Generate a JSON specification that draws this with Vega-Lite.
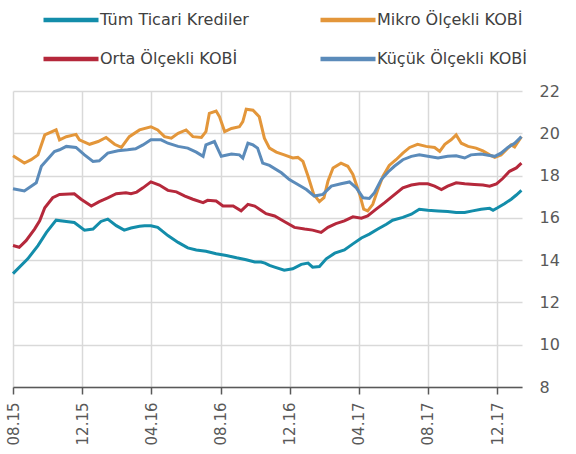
{
  "$schema": "https://vega.github.io/schema/vega-lite/v6.json",
  "width": 509,
  "height": 296,
  "autosize": {"type": "none"},
  "padding": {"left": 13, "top": 91, "right": 54, "bottom": 67},
  "background": "white",
  "config": {"view": {"stroke": null}, "font": "DejaVu Sans"},
  "data": {"values": [
    {"d":"2015-08-01","s":"Tüm Ticari Krediler","v":13.36},
    {"d":"2015-08-27","s":"Tüm Ticari Krediler","v":14.06},
    {"d":"2015-09-14","s":"Tüm Ticari Krediler","v":14.69},
    {"d":"2015-09-29","s":"Tüm Ticari Krediler","v":15.31},
    {"d":"2015-10-16","s":"Tüm Ticari Krediler","v":15.89},
    {"d":"2015-11-03","s":"Tüm Ticari Krediler","v":15.83},
    {"d":"2015-11-17","s":"Tüm Ticari Krediler","v":15.78},
    {"d":"2015-12-05","s":"Tüm Ticari Krediler","v":15.42},
    {"d":"2015-12-20","s":"Tüm Ticari Krediler","v":15.47},
    {"d":"2016-01-03","s":"Tüm Ticari Krediler","v":15.83},
    {"d":"2016-01-15","s":"Tüm Ticari Krediler","v":15.94},
    {"d":"2016-01-30","s":"Tüm Ticari Krediler","v":15.63},
    {"d":"2016-02-13","s":"Tüm Ticari Krediler","v":15.42},
    {"d":"2016-02-25","s":"Tüm Ticari Krediler","v":15.52},
    {"d":"2016-03-11","s":"Tüm Ticari Krediler","v":15.6},
    {"d":"2016-03-20","s":"Tüm Ticari Krediler","v":15.63},
    {"d":"2016-03-31","s":"Tüm Ticari Krediler","v":15.63},
    {"d":"2016-04-12","s":"Tüm Ticari Krediler","v":15.55},
    {"d":"2016-04-30","s":"Tüm Ticari Krediler","v":15.16},
    {"d":"2016-05-18","s":"Tüm Ticari Krediler","v":14.84},
    {"d":"2016-06-04","s":"Tüm Ticari Krediler","v":14.58},
    {"d":"2016-06-19","s":"Tüm Ticari Krediler","v":14.48},
    {"d":"2016-07-06","s":"Tüm Ticari Krediler","v":14.42},
    {"d":"2016-07-24","s":"Tüm Ticari Krediler","v":14.3},
    {"d":"2016-08-11","s":"Tüm Ticari Krediler","v":14.22},
    {"d":"2016-08-29","s":"Tüm Ticari Krediler","v":14.11},
    {"d":"2016-09-15","s":"Tüm Ticari Krediler","v":14.02},
    {"d":"2016-09-30","s":"Tüm Ticari Krediler","v":13.91},
    {"d":"2016-10-11","s":"Tüm Ticari Krediler","v":13.91},
    {"d":"2016-10-18","s":"Tüm Ticari Krediler","v":13.86},
    {"d":"2016-10-26","s":"Tüm Ticari Krediler","v":13.75},
    {"d":"2016-11-04","s":"Tüm Ticari Krediler","v":13.67},
    {"d":"2016-11-21","s":"Tüm Ticari Krediler","v":13.52},
    {"d":"2016-12-06","s":"Tüm Ticari Krediler","v":13.59},
    {"d":"2016-12-21","s":"Tüm Ticari Krediler","v":13.8},
    {"d":"2017-01-02","s":"Tüm Ticari Krediler","v":13.86},
    {"d":"2017-01-10","s":"Tüm Ticari Krediler","v":13.67},
    {"d":"2017-01-22","s":"Tüm Ticari Krediler","v":13.7},
    {"d":"2017-02-03","s":"Tüm Ticari Krediler","v":14.06},
    {"d":"2017-02-18","s":"Tüm Ticari Krediler","v":14.33},
    {"d":"2017-03-07","s":"Tüm Ticari Krediler","v":14.48},
    {"d":"2017-03-22","s":"Tüm Ticari Krediler","v":14.77},
    {"d":"2017-04-06","s":"Tüm Ticari Krediler","v":15.05},
    {"d":"2017-04-20","s":"Tüm Ticari Krediler","v":15.23},
    {"d":"2017-05-05","s":"Tüm Ticari Krediler","v":15.47},
    {"d":"2017-05-20","s":"Tüm Ticari Krediler","v":15.7},
    {"d":"2017-05-31","s":"Tüm Ticari Krediler","v":15.89},
    {"d":"2017-06-18","s":"Tüm Ticari Krediler","v":16.02},
    {"d":"2017-07-03","s":"Tüm Ticari Krediler","v":16.17},
    {"d":"2017-07-17","s":"Tüm Ticari Krediler","v":16.41},
    {"d":"2017-08-01","s":"Tüm Ticari Krediler","v":16.36},
    {"d":"2017-08-19","s":"Tüm Ticari Krediler","v":16.33},
    {"d":"2017-09-05","s":"Tüm Ticari Krediler","v":16.3},
    {"d":"2017-09-20","s":"Tüm Ticari Krediler","v":16.25},
    {"d":"2017-10-05","s":"Tüm Ticari Krediler","v":16.25},
    {"d":"2017-10-19","s":"Tüm Ticari Krediler","v":16.33},
    {"d":"2017-11-03","s":"Tüm Ticari Krediler","v":16.41},
    {"d":"2017-11-18","s":"Tüm Ticari Krediler","v":16.45},
    {"d":"2017-11-24","s":"Tüm Ticari Krediler","v":16.36},
    {"d":"2017-12-02","s":"Tüm Ticari Krediler","v":16.48},
    {"d":"2017-12-14","s":"Tüm Ticari Krediler","v":16.67},
    {"d":"2017-12-26","s":"Tüm Ticari Krediler","v":16.88},
    {"d":"2018-01-04","s":"Tüm Ticari Krediler","v":17.08},
    {"d":"2018-01-13","s":"Tüm Ticari Krediler","v":17.3},

    {"d":"2015-08-01","s":"Mikro Ölçekli KOBİ","v":18.94},
    {"d":"2015-08-21","s":"Mikro Ölçekli KOBİ","v":18.59},
    {"d":"2015-09-02","s":"Mikro Ölçekli KOBİ","v":18.75},
    {"d":"2015-09-14","s":"Mikro Ölçekli KOBİ","v":18.98},
    {"d":"2015-09-26","s":"Mikro Ölçekli KOBİ","v":19.92},
    {"d":"2015-10-16","s":"Mikro Ölçekli KOBİ","v":20.16},
    {"d":"2015-10-22","s":"Mikro Ölçekli KOBİ","v":19.69},
    {"d":"2015-11-03","s":"Mikro Ölçekli KOBİ","v":19.84},
    {"d":"2015-11-20","s":"Mikro Ölçekli KOBİ","v":19.95},
    {"d":"2015-11-26","s":"Mikro Ölçekli KOBİ","v":19.69},
    {"d":"2015-12-14","s":"Mikro Ölçekli KOBİ","v":19.48},
    {"d":"2015-12-29","s":"Mikro Ölçekli KOBİ","v":19.61},
    {"d":"2016-01-12","s":"Mikro Ölçekli KOBİ","v":19.8},
    {"d":"2016-01-27","s":"Mikro Ölçekli KOBİ","v":19.48},
    {"d":"2016-02-08","s":"Mikro Ölçekli KOBİ","v":19.33},
    {"d":"2016-02-22","s":"Mikro Ölçekli KOBİ","v":19.84},
    {"d":"2016-03-11","s":"Mikro Ölçekli KOBİ","v":20.16},
    {"d":"2016-03-31","s":"Mikro Ölçekli KOBİ","v":20.31},
    {"d":"2016-04-12","s":"Mikro Ölçekli KOBİ","v":20.16},
    {"d":"2016-04-24","s":"Mikro Ölçekli KOBİ","v":19.84},
    {"d":"2016-05-06","s":"Mikro Ölçekli KOBİ","v":19.77},
    {"d":"2016-05-18","s":"Mikro Ölçekli KOBİ","v":20.0},
    {"d":"2016-06-01","s":"Mikro Ölçekli KOBİ","v":20.16},
    {"d":"2016-06-13","s":"Mikro Ölçekli KOBİ","v":19.84},
    {"d":"2016-06-28","s":"Mikro Ölçekli KOBİ","v":19.8},
    {"d":"2016-07-06","s":"Mikro Ölçekli KOBİ","v":20.08},
    {"d":"2016-07-12","s":"Mikro Ölçekli KOBİ","v":20.94},
    {"d":"2016-07-24","s":"Mikro Ölçekli KOBİ","v":21.05},
    {"d":"2016-07-30","s":"Mikro Ölçekli KOBİ","v":20.78},
    {"d":"2016-08-08","s":"Mikro Ölçekli KOBİ","v":20.08},
    {"d":"2016-08-20","s":"Mikro Ölçekli KOBİ","v":20.23},
    {"d":"2016-09-03","s":"Mikro Ölçekli KOBİ","v":20.31},
    {"d":"2016-09-09","s":"Mikro Ölçekli KOBİ","v":20.55},
    {"d":"2016-09-15","s":"Mikro Ölçekli KOBİ","v":21.14},
    {"d":"2016-09-27","s":"Mikro Ölçekli KOBİ","v":21.09},
    {"d":"2016-10-08","s":"Mikro Ölçekli KOBİ","v":20.78},
    {"d":"2016-10-17","s":"Mikro Ölçekli KOBİ","v":19.77},
    {"d":"2016-10-26","s":"Mikro Ölçekli KOBİ","v":19.3},
    {"d":"2016-11-07","s":"Mikro Ölçekli KOBİ","v":19.11},
    {"d":"2016-11-21","s":"Mikro Ölçekli KOBİ","v":18.98},
    {"d":"2016-12-06","s":"Mikro Ölçekli KOBİ","v":18.83},
    {"d":"2016-12-15","s":"Mikro Ölçekli KOBİ","v":18.86},
    {"d":"2016-12-24","s":"Mikro Ölçekli KOBİ","v":18.67},
    {"d":"2017-01-02","s":"Mikro Ölçekli KOBİ","v":17.97},
    {"d":"2017-01-12","s":"Mikro Ölçekli KOBİ","v":17.11},
    {"d":"2017-01-22","s":"Mikro Ölçekli KOBİ","v":16.77},
    {"d":"2017-01-30","s":"Mikro Ölçekli KOBİ","v":16.95},
    {"d":"2017-02-06","s":"Mikro Ölçekli KOBİ","v":17.73},
    {"d":"2017-02-15","s":"Mikro Ölçekli KOBİ","v":18.36},
    {"d":"2017-03-01","s":"Mikro Ölçekli KOBİ","v":18.59},
    {"d":"2017-03-13","s":"Mikro Ölçekli KOBİ","v":18.44},
    {"d":"2017-03-22","s":"Mikro Ölçekli KOBİ","v":18.05},
    {"d":"2017-04-03","s":"Mikro Ölçekli KOBİ","v":17.11},
    {"d":"2017-04-10","s":"Mikro Ölçekli KOBİ","v":16.41},
    {"d":"2017-04-17","s":"Mikro Ölçekli KOBİ","v":16.33},
    {"d":"2017-04-26","s":"Mikro Ölçekli KOBİ","v":16.64},
    {"d":"2017-05-05","s":"Mikro Ölçekli KOBİ","v":17.34},
    {"d":"2017-05-14","s":"Mikro Ölçekli KOBİ","v":17.97},
    {"d":"2017-05-25","s":"Mikro Ölçekli KOBİ","v":18.48},
    {"d":"2017-06-06","s":"Mikro Ölçekli KOBİ","v":18.75},
    {"d":"2017-06-18","s":"Mikro Ölçekli KOBİ","v":19.06},
    {"d":"2017-06-30","s":"Mikro Ölçekli KOBİ","v":19.33},
    {"d":"2017-07-14","s":"Mikro Ölçekli KOBİ","v":19.48},
    {"d":"2017-07-29","s":"Mikro Ölçekli KOBİ","v":19.38},
    {"d":"2017-08-13","s":"Mikro Ölçekli KOBİ","v":19.33},
    {"d":"2017-08-22","s":"Mikro Ölçekli KOBİ","v":19.14},
    {"d":"2017-08-31","s":"Mikro Ölçekli KOBİ","v":19.48},
    {"d":"2017-09-11","s":"Mikro Ölçekli KOBİ","v":19.69},
    {"d":"2017-09-20","s":"Mikro Ölçekli KOBİ","v":19.92},
    {"d":"2017-09-29","s":"Mikro Ölçekli KOBİ","v":19.53},
    {"d":"2017-10-11","s":"Mikro Ölçekli KOBİ","v":19.38},
    {"d":"2017-10-25","s":"Mikro Ölçekli KOBİ","v":19.3},
    {"d":"2017-11-06","s":"Mikro Ölçekli KOBİ","v":19.17},
    {"d":"2017-11-18","s":"Mikro Ölçekli KOBİ","v":18.98},
    {"d":"2017-11-27","s":"Mikro Ölçekli KOBİ","v":18.86},
    {"d":"2017-12-08","s":"Mikro Ölçekli KOBİ","v":18.98},
    {"d":"2017-12-20","s":"Mikro Ölçekli KOBİ","v":19.3},
    {"d":"2017-12-26","s":"Mikro Ölçekli KOBİ","v":19.45},
    {"d":"2018-01-01","s":"Mikro Ölçekli KOBİ","v":19.35},
    {"d":"2018-01-13","s":"Mikro Ölçekli KOBİ","v":19.84},

    {"d":"2015-08-01","s":"Orta Ölçekli KOBİ","v":14.69},
    {"d":"2015-08-12","s":"Orta Ölçekli KOBİ","v":14.61},
    {"d":"2015-08-24","s":"Orta Ölçekli KOBİ","v":14.92},
    {"d":"2015-09-08","s":"Orta Ölçekli KOBİ","v":15.47},
    {"d":"2015-09-17","s":"Orta Ölçekli KOBİ","v":15.86},
    {"d":"2015-09-26","s":"Orta Ölçekli KOBİ","v":16.48},
    {"d":"2015-10-10","s":"Orta Ölçekli KOBİ","v":16.95},
    {"d":"2015-10-22","s":"Orta Ölçekli KOBİ","v":17.11},
    {"d":"2015-11-17","s":"Orta Ölçekli KOBİ","v":17.14},
    {"d":"2015-11-29","s":"Orta Ölçekli KOBİ","v":16.88},
    {"d":"2015-12-17","s":"Orta Ölçekli KOBİ","v":16.56},
    {"d":"2015-12-31","s":"Orta Ölçekli KOBİ","v":16.77},
    {"d":"2016-01-15","s":"Orta Ölçekli KOBİ","v":16.95},
    {"d":"2016-01-30","s":"Orta Ölçekli KOBİ","v":17.14},
    {"d":"2016-02-16","s":"Orta Ölçekli KOBİ","v":17.19},
    {"d":"2016-02-25","s":"Orta Ölçekli KOBİ","v":17.14},
    {"d":"2016-03-06","s":"Orta Ölçekli KOBİ","v":17.22},
    {"d":"2016-03-17","s":"Orta Ölçekli KOBİ","v":17.42},
    {"d":"2016-03-31","s":"Orta Ölçekli KOBİ","v":17.7},
    {"d":"2016-04-15","s":"Orta Ölçekli KOBİ","v":17.55},
    {"d":"2016-04-30","s":"Orta Ölçekli KOBİ","v":17.3},
    {"d":"2016-05-15","s":"Orta Ölçekli KOBİ","v":17.23},
    {"d":"2016-05-30","s":"Orta Ölçekli KOBİ","v":17.03},
    {"d":"2016-06-13","s":"Orta Ölçekli KOBİ","v":16.88},
    {"d":"2016-07-01","s":"Orta Ölçekli KOBİ","v":16.72},
    {"d":"2016-07-09","s":"Orta Ölçekli KOBİ","v":16.83},
    {"d":"2016-07-24","s":"Orta Ölçekli KOBİ","v":16.8},
    {"d":"2016-08-05","s":"Orta Ölçekli KOBİ","v":16.56},
    {"d":"2016-08-23","s":"Orta Ölçekli KOBİ","v":16.56},
    {"d":"2016-09-06","s":"Orta Ölçekli KOBİ","v":16.33},
    {"d":"2016-09-18","s":"Orta Ölçekli KOBİ","v":16.64},
    {"d":"2016-09-30","s":"Orta Ölçekli KOBİ","v":16.56},
    {"d":"2016-10-11","s":"Orta Ölçekli KOBİ","v":16.36},
    {"d":"2016-10-20","s":"Orta Ölçekli KOBİ","v":16.2},
    {"d":"2016-11-04","s":"Orta Ölçekli KOBİ","v":16.09},
    {"d":"2016-11-21","s":"Orta Ölçekli KOBİ","v":15.83},
    {"d":"2016-12-09","s":"Orta Ölçekli KOBİ","v":15.55},
    {"d":"2016-12-27","s":"Orta Ölçekli KOBİ","v":15.47},
    {"d":"2017-01-10","s":"Orta Ölçekli KOBİ","v":15.42},
    {"d":"2017-01-25","s":"Orta Ölçekli KOBİ","v":15.31},
    {"d":"2017-02-06","s":"Orta Ölçekli KOBİ","v":15.55},
    {"d":"2017-02-20","s":"Orta Ölçekli KOBİ","v":15.73},
    {"d":"2017-03-07","s":"Orta Ölçekli KOBİ","v":15.86},
    {"d":"2017-03-22","s":"Orta Ölçekli KOBİ","v":16.05},
    {"d":"2017-04-06","s":"Orta Ölçekli KOBİ","v":15.98},
    {"d":"2017-04-17","s":"Orta Ölçekli KOBİ","v":16.09},
    {"d":"2017-05-02","s":"Orta Ölçekli KOBİ","v":16.41},
    {"d":"2017-05-17","s":"Orta Ölçekli KOBİ","v":16.72},
    {"d":"2017-05-31","s":"Orta Ölçekli KOBİ","v":17.03},
    {"d":"2017-06-18","s":"Orta Ölçekli KOBİ","v":17.42},
    {"d":"2017-07-03","s":"Orta Ölçekli KOBİ","v":17.55},
    {"d":"2017-07-17","s":"Orta Ölçekli KOBİ","v":17.61},
    {"d":"2017-08-01","s":"Orta Ölçekli KOBİ","v":17.61},
    {"d":"2017-08-13","s":"Orta Ölçekli KOBİ","v":17.5},
    {"d":"2017-08-25","s":"Orta Ölçekli KOBİ","v":17.34},
    {"d":"2017-09-05","s":"Orta Ölçekli KOBİ","v":17.5},
    {"d":"2017-09-20","s":"Orta Ölçekli KOBİ","v":17.66},
    {"d":"2017-10-05","s":"Orta Ölçekli KOBİ","v":17.61},
    {"d":"2017-10-22","s":"Orta Ölçekli KOBİ","v":17.58},
    {"d":"2017-11-06","s":"Orta Ölçekli KOBİ","v":17.55},
    {"d":"2017-11-18","s":"Orta Ölçekli KOBİ","v":17.5},
    {"d":"2017-11-30","s":"Orta Ölçekli KOBİ","v":17.61},
    {"d":"2017-12-11","s":"Orta Ölçekli KOBİ","v":17.86},
    {"d":"2017-12-23","s":"Orta Ölçekli KOBİ","v":18.2},
    {"d":"2018-01-04","s":"Orta Ölçekli KOBİ","v":18.36},
    {"d":"2018-01-13","s":"Orta Ölçekli KOBİ","v":18.59},

    {"d":"2015-08-01","s":"Küçük Ölçekli KOBİ","v":17.38},
    {"d":"2015-08-21","s":"Küçük Ölçekli KOBİ","v":17.27},
    {"d":"2015-09-11","s":"Küçük Ölçekli KOBİ","v":17.66},
    {"d":"2015-09-20","s":"Küçük Ölçekli KOBİ","v":18.44},
    {"d":"2015-10-13","s":"Küçük Ölçekli KOBİ","v":19.14},
    {"d":"2015-10-22","s":"Küçük Ölçekli KOBİ","v":19.22},
    {"d":"2015-11-03","s":"Küçük Ölçekli KOBİ","v":19.38},
    {"d":"2015-11-20","s":"Küçük Ölçekli KOBİ","v":19.33},
    {"d":"2015-12-05","s":"Küçük Ölçekli KOBİ","v":18.98},
    {"d":"2015-12-20","s":"Küçük Ölçekli KOBİ","v":18.67},
    {"d":"2015-12-31","s":"Küçük Ölçekli KOBİ","v":18.7},
    {"d":"2016-01-15","s":"Küçük Ölçekli KOBİ","v":19.06},
    {"d":"2016-02-02","s":"Küçük Ölçekli KOBİ","v":19.17},
    {"d":"2016-02-19","s":"Küçük Ölçekli KOBİ","v":19.22},
    {"d":"2016-03-04","s":"Küçük Ölçekli KOBİ","v":19.27},
    {"d":"2016-03-17","s":"Küçük Ölçekli KOBİ","v":19.45},
    {"d":"2016-03-31","s":"Küçük Ölçekli KOBİ","v":19.69},
    {"d":"2016-04-18","s":"Küçük Ölçekli KOBİ","v":19.69},
    {"d":"2016-04-30","s":"Küçük Ölçekli KOBİ","v":19.53},
    {"d":"2016-05-18","s":"Küçük Ölçekli KOBİ","v":19.38},
    {"d":"2016-06-04","s":"Küçük Ölçekli KOBİ","v":19.3},
    {"d":"2016-06-19","s":"Küçük Ölçekli KOBİ","v":19.11},
    {"d":"2016-07-01","s":"Küçük Ölçekli KOBİ","v":18.91},
    {"d":"2016-07-06","s":"Küçük Ölçekli KOBİ","v":19.45},
    {"d":"2016-07-21","s":"Küçük Ölçekli KOBİ","v":19.61},
    {"d":"2016-08-02","s":"Küçük Ölçekli KOBİ","v":18.91},
    {"d":"2016-08-20","s":"Küçük Ölçekli KOBİ","v":19.02},
    {"d":"2016-09-03","s":"Küçük Ölçekli KOBİ","v":18.98},
    {"d":"2016-09-09","s":"Küçük Ölçekli KOBİ","v":18.83},
    {"d":"2016-09-18","s":"Küçük Ölçekli KOBİ","v":19.53},
    {"d":"2016-09-27","s":"Küçük Ölçekli KOBİ","v":19.45},
    {"d":"2016-10-05","s":"Küçük Ölçekli KOBİ","v":19.3},
    {"d":"2016-10-14","s":"Küçük Ölçekli KOBİ","v":18.59},
    {"d":"2016-10-26","s":"Küçük Ölçekli KOBİ","v":18.48},
    {"d":"2016-11-16","s":"Küçük Ölçekli KOBİ","v":18.13},
    {"d":"2016-11-30","s":"Küçük Ölçekli KOBİ","v":17.81},
    {"d":"2016-12-15","s":"Küçük Ölçekli KOBİ","v":17.58},
    {"d":"2016-12-30","s":"Küçük Ölçekli KOBİ","v":17.34},
    {"d":"2017-01-13","s":"Küçük Ölçekli KOBİ","v":17.03},
    {"d":"2017-01-28","s":"Küçük Ölçekli KOBİ","v":17.11},
    {"d":"2017-02-12","s":"Küçük Ölçekli KOBİ","v":17.5},
    {"d":"2017-03-01","s":"Küçük Ölçekli KOBİ","v":17.61},
    {"d":"2017-03-16","s":"Küçük Ölçekli KOBİ","v":17.7},
    {"d":"2017-03-28","s":"Küçük Ölçekli KOBİ","v":17.42},
    {"d":"2017-04-09","s":"Küçük Ölçekli KOBİ","v":16.95},
    {"d":"2017-04-20","s":"Küçük Ölçekli KOBİ","v":16.92},
    {"d":"2017-04-29","s":"Küçük Ölçekli KOBİ","v":17.19},
    {"d":"2017-05-11","s":"Küçük Ölçekli KOBİ","v":17.81},
    {"d":"2017-05-23","s":"Küçük Ölçekli KOBİ","v":18.17},
    {"d":"2017-06-03","s":"Küçük Ölçekli KOBİ","v":18.44},
    {"d":"2017-06-18","s":"Küçük Ölçekli KOBİ","v":18.75},
    {"d":"2017-07-03","s":"Küçük Ölçekli KOBİ","v":18.91},
    {"d":"2017-07-17","s":"Küçük Ölçekli KOBİ","v":18.98},
    {"d":"2017-08-01","s":"Küçük Ölçekli KOBİ","v":18.91},
    {"d":"2017-08-19","s":"Küçük Ölçekli KOBİ","v":18.83},
    {"d":"2017-09-05","s":"Küçük Ölçekli KOBİ","v":18.91},
    {"d":"2017-09-20","s":"Küçük Ölçekli KOBİ","v":18.94},
    {"d":"2017-10-05","s":"Küçük Ölçekli KOBİ","v":18.83},
    {"d":"2017-10-16","s":"Küçük Ölçekli KOBİ","v":18.98},
    {"d":"2017-11-03","s":"Küçük Ölçekli KOBİ","v":19.02},
    {"d":"2017-11-18","s":"Küçük Ölçekli KOBİ","v":18.95},
    {"d":"2017-11-27","s":"Küçük Ölçekli KOBİ","v":18.91},
    {"d":"2017-12-08","s":"Küçük Ölçekli KOBİ","v":19.06},
    {"d":"2017-12-20","s":"Küçük Ölçekli KOBİ","v":19.33},
    {"d":"2018-01-01","s":"Küçük Ölçekli KOBİ","v":19.53},
    {"d":"2018-01-13","s":"Küçük Ölçekli KOBİ","v":19.84}
  ]},
  "mark": {"type": "line", "strokeWidth": 3},
  "encoding": {
    "x": {
      "field": "d", "type": "temporal",
      "scale": {"type": "utc", "domain": [{"year": 2015, "month": 8, "date": 1, "utc": true}, {"year": 2018, "month": 1, "date": 14, "utc": true}]},
      "axis": {
        "title": null,
        "values": [
          {"year": 2015, "month": 8, "date": 1, "utc": true},
          {"year": 2015, "month": 12, "date": 1, "utc": true},
          {"year": 2016, "month": 4, "date": 1, "utc": true},
          {"year": 2016, "month": 8, "date": 1, "utc": true},
          {"year": 2016, "month": 12, "date": 1, "utc": true},
          {"year": 2017, "month": 4, "date": 1, "utc": true},
          {"year": 2017, "month": 8, "date": 1, "utc": true},
          {"year": 2017, "month": 12, "date": 1, "utc": true}
        ],
        "labelExpr": "utcFormat(datum.value, '%m.%y')",
        "labelAngle": 270, "labelAlign": "right", "labelBaseline": "middle",
        "labelFontSize": 15, "labelColor": "#595959", "labelPadding": 8,
        "labelFlush": false, "labelOverlap": false,
        "tickSize": 7, "tickColor": "#595959", "tickWidth": 1.5,
        "domainColor": "#595959", "domainWidth": 1.5,
        "grid": true, "gridColor": "#d9d9d9", "gridWidth": 1.5
      }
    },
    "y": {
      "field": "v", "type": "quantitative",
      "scale": {"domain": [8, 22], "nice": false, "zero": false},
      "axis": {
        "title": null, "orient": "right",
        "values": [8, 10, 12, 14, 16, 18, 20, 22],
        "labelFontSize": 16, "labelColor": "#595959", "labelPadding": 17,
        "ticks": false, "domain": false,
        "grid": true, "gridColor": "#d9d9d9", "gridWidth": 1.5
      }
    },
    "color": {
      "field": "s", "type": "nominal",
      "scale": {
        "domain": ["Tüm Ticari Krediler", "Mikro Ölçekli KOBİ", "Orta Ölçekli KOBİ", "Küçük Ölçekli KOBİ"],
        "range": ["#138daa", "#e3963a", "#b5283b", "#5b8bba"]
      },
      "legend": {
        "title": null, "orient": "none", "legendX": 28, "legendY": -101,
        "direction": "horizontal",
        "columns": 2, "columnPadding": 62, "rowPadding": 0,
        "symbolType": "stroke", "symbolSize": 3025, "symbolStrokeWidth": 4.5,
        "labelFontSize": 16, "labelColor": "#404040", "labelOffset": -1, "labelLimit": 300
      }
    }
  }
}
